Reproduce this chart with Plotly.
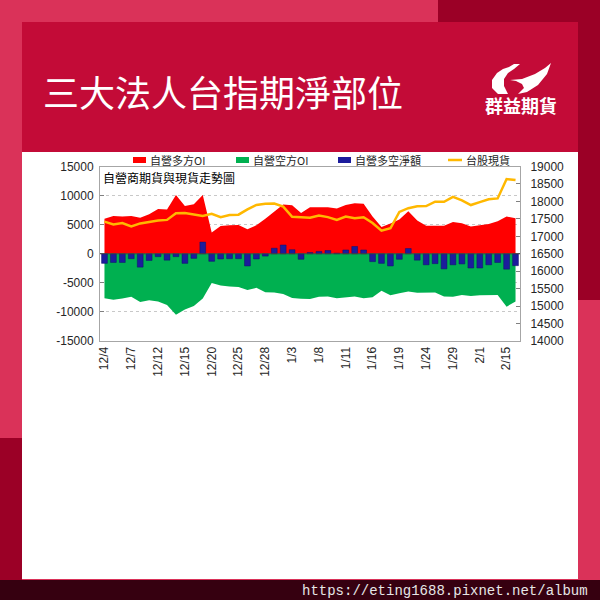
import plotly.graph_objects as go

# ---------------- data ----------------
dates = ["12/4", "12/5", "12/6", "12/7", "12/8", "12/11", "12/12", "12/13", "12/14", "12/15",
         "12/18", "12/19", "12/20", "12/21", "12/22", "12/25", "12/26", "12/27", "12/28", "12/29",
         "1/2", "1/3", "1/4", "1/5", "1/8", "1/9", "1/10", "1/11", "1/12", "1/15",
         "1/16", "1/17", "1/18", "1/19", "1/22", "1/23", "1/24", "1/25", "1/26", "1/29",
         "1/30", "1/31", "2/1", "2/2", "2/5", "2/15", "2/16"]

long_oi = [6000, 6500, 6400, 6500, 6200, 6800, 7700, 7600, 10100, 8200,
           8500, 10100, 3650, 4750, 4900, 4950, 4200, 4900, 6000, 7300,
           8450, 8350, 7000, 8000, 8000, 8000, 7800, 8400, 8700, 8600,
           6400, 4600, 5200, 5900, 7300, 5700, 4800, 4850, 4800, 5450,
           5250, 4700, 4850, 5100, 5600, 6400, 6100]

short_oi = [-7650, -7900, -7700, -7400, -8300, -8000, -8200, -8800, -10500, -9600,
            -9000, -7700, -5050, -5450, -5650, -5700, -6250, -5850, -6600, -6650,
            -6900, -7600, -7750, -7800, -7400, -7350, -7650, -7450, -7350, -7650,
            -7500, -6350, -7150, -6800, -6500, -6700, -6650, -6650, -7350, -7400,
            -7100, -7250, -7150, -7100, -7100, -9100, -8200]

net_oi = [-1650, -1500, -1500, -850, -2300, -1150, -500, -1100, -500, -1650,
          -800, 2000, -1300, -900, -850, -850, -2100, -900, -400, 950,
          1500, 700, -950, 200, 400, 550, 100, 650, 1250, 650,
          -1350, -1650, -2100, -950, 900, -1100, -1900, -1700, -2600, -1900,
          -1750, -2450, -2450, -1900, -1500, -2650, -2050]

taiex = [17420, 17340, 17380, 17280, 17370, 17420, 17450, 17470, 17660, 17670,
         17635, 17580, 17645, 17545, 17610, 17620, 17770, 17900, 17930, 17940,
         17850, 17560, 17545, 17530, 17595, 17550, 17470, 17565, 17520, 17545,
         17380, 17160, 17230, 17700, 17805, 17860, 17865, 17990, 17990, 18130,
         18030, 17895, 17980, 18060, 18085, 18640, 18610]

x_tick_labels = dates[::3]
left_ticks = [15000, 10000, 5000, 0, -5000, -10000, -15000]
left_tick_text = ["15000", "10000", "5000", "0", "-5000", "-10000", "-15000"]
right_ticks = [14000, 14500, 15000, 15500, 16000, 16500, 17000, 17500, 18000, 18500, 19000]

series_names = ["自營多方OI", "自營空方OI", "自營多空淨額", "台股現貨"]
title_text = "三大法人台指期淨部位"
subtitle_text = "自營商期貨與現貨走勢圖"
logo_text = "群益期貨"
url_text = "https://eting1688.pixnet.net/album"

# ---------------- styles ----------------
C_RED = "#ff0000"
C_GREEN = "#00b050"
C_BLUE = "#1c1c9c"
C_GOLD = "#ffb800"
CJK = "Noto Sans CJK TC"
NUM = "Liberation Sans"

W = H = 600


def px(x):
    return x / W


def py(y):
    return 1 - y / H


def rect(x0, y0, x1, y1, color, layer="below"):
    return dict(type="rect", xref="paper", yref="paper",
                x0=px(x0), x1=px(x1), y0=py(y1), y1=py(y0),
                fillcolor=color, line=dict(width=0), layer=layer)


def path(points, color):
    d = "M " + " L ".join(f"{px(a):.5f},{py(b):.5f}" for a, b in points) + " Z"
    return dict(type="path", xref="paper", yref="paper", path=d,
                fillcolor=color, line=dict(width=0), layer="above")


fig = go.Figure()

fig.add_trace(go.Scatter(x=dates, y=long_oi, name=series_names[0], mode="lines",
                         fill="tozeroy", fillcolor=C_RED, line=dict(width=0, color=C_RED),
                         xaxis="x", yaxis="y", showlegend=False))
fig.add_trace(go.Scatter(x=dates, y=short_oi, name=series_names[1], mode="lines",
                         fill="tozeroy", fillcolor=C_GREEN, line=dict(width=0, color=C_GREEN),
                         xaxis="x", yaxis="y", showlegend=False))
fig.add_trace(go.Bar(x=dates, y=net_oi, name=series_names[2],
                     marker=dict(color=C_BLUE, line=dict(color="#10106a", width=0.5)),
                     xaxis="x", yaxis="y2", showlegend=False))
fig.add_trace(go.Scatter(x=dates, y=taiex, name=series_names[3], mode="lines",
                         line=dict(color=C_GOLD, width=2.5),
                         xaxis="x", yaxis="y3", showlegend=False))

PL, PR, PT, PB = 100, 520, 166.5, 341

shapes = [
    rect(438, 0, 600, 300, "#9b0026"),
    rect(0, 438, 22, 580, "#9b0026"),
    rect(22, 22, 578, 152, "#c30b37"),
    rect(22, 152, 578, 579, "#ffffff"),
    rect(0, 580, 600, 600, "#360010"),
    # zero line
    dict(type="line", xref="paper", yref="y", x0=px(PL), x1=px(PR), y0=0, y1=0,
         line=dict(color="#404040", width=1), layer="above"),
    # legend symbols
    rect(133, 157, 146, 163, C_RED, layer="above"),
    rect(236, 157, 249, 163, C_GREEN, layer="above"),
    rect(338, 157, 351, 163, C_BLUE, layer="above"),
    dict(type="line", xref="paper", yref="paper", x0=px(448), x1=px(462), y0=py(160), y1=py(160),
         line=dict(color=C_GOLD, width=2.5), layer="above"),
    # logo bird
    path([(510, 80), (522, 79), (535, 74), (545, 68), (551, 63), (547, 74), (538, 85),
          (527, 92), (518, 94), (524, 88), (522, 84), (516, 81)], "#ffffff"),
    path([(498, 94), (492, 88), (492, 80), (497, 73), (503, 69), (509, 67), (514, 64),
          (520, 64), (514, 69), (508, 73), (504, 79), (504, 86), (508, 94)], "#ffffff"),
]

annotations = [
    dict(text=title_text, x=px(41), y=py(91), xref="paper", yref="paper",
         xanchor="left", yanchor="middle", showarrow=False,
         font=dict(family=CJK, size=36, color="#ffffff")),
    dict(text=logo_text, x=px(521), y=py(105), xref="paper", yref="paper",
         xanchor="center", yanchor="middle", showarrow=False,
         font=dict(family=CJK, size=18, color="#ffffff", weight="bold")),
    dict(text=url_text, x=px(590), y=py(591), xref="paper", yref="paper",
         xanchor="right", yanchor="middle", showarrow=False,
         font=dict(family="Liberation Mono", size=14, color="#e6e6e6")),
    dict(text=subtitle_text, x=px(101), y=py(178), xref="paper", yref="paper",
         xanchor="left", yanchor="middle", showarrow=False,
         font=dict(family=CJK, size=12, color="#000000")),
]
for name, xpos in zip(series_names, [148, 251, 353, 464]):
    annotations.append(dict(text=name, x=px(xpos), y=py(160), xref="paper", yref="paper",
                            xanchor="left", yanchor="middle", showarrow=False,
                            font=dict(family=CJK, size=11, color="#262626")))

fig.update_layout(
    width=W, height=H,
    margin=dict(l=0, r=0, t=0, b=0),
    paper_bgcolor="#da3259",
    plot_bgcolor="#ffffff",
    bargap=0.35,
    shapes=shapes,
    annotations=annotations,
    xaxis=dict(type="category", categoryorder="array", categoryarray=dates,
               range=[-0.5, len(dates) - 0.5], domain=[px(PL), px(PR)],
               tickmode="array", tickvals=x_tick_labels, ticktext=x_tick_labels,
               tickangle=-90, tickfont=dict(family=NUM, size=12, color="#262626"),
               showline=True, linecolor="#a6a6a6", linewidth=1, mirror=True,
               showgrid=False, ticks="", automargin=False, fixedrange=True),
    yaxis=dict(range=[-15000, 15000], domain=[py(PB), py(PT)],
               tickmode="array", tickvals=left_ticks, ticktext=left_tick_text,
               tickfont=dict(family=NUM, size=12, color="#262626"),
               showgrid=True, gridcolor="#c8c8c8", griddash="dot", gridwidth=1,
               zeroline=False, showline=True, linecolor="#a6a6a6", linewidth=1, mirror=True,
               ticks="inside", ticklen=4, tickcolor="#808080",
               ticklabelstandoff=3, automargin=False, fixedrange=True),
    yaxis2=dict(range=[-15000, 15000], overlaying="y", visible=False, fixedrange=True),
    yaxis3=dict(range=[14000, 19000], overlaying="y", side="right", anchor="x",
                tickmode="array", tickvals=right_ticks, ticktext=[str(v) for v in right_ticks],
                tickfont=dict(family=NUM, size=12, color="#262626"),
                showgrid=False, zeroline=False, showline=True, linecolor="#a6a6a6",
                ticks="inside", ticklen=4, tickcolor="#808080",
                ticklabelstandoff=7, automargin=False, fixedrange=True),
)

fig.write_html("out.html", config={"displayModeBar": False},
               post_script="document.body.style.margin='0';"
                           "document.documentElement.style.overflow='hidden';")
